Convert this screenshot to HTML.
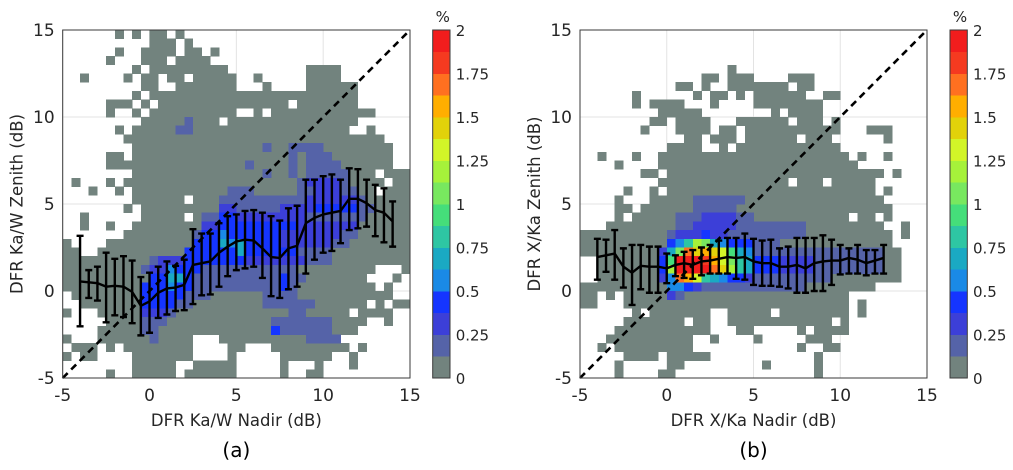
<!DOCTYPE html>
<html><head><meta charset="utf-8"><style>
html,body{margin:0;padding:0;background:#fff;}
svg{display:block;font-family:"DejaVu Sans","Liberation Sans",sans-serif;}
</style></head><body>
<svg id="fig" width="1013" height="470" viewBox="0 0 1013 470" xmlns="http://www.w3.org/2000/svg"></svg>
<script>
// ---------- data ----------
const ticks = [-5, 0, 5, 10, 15];
const cbTicks = [0, 0.25, 0.5, 0.75, 1, 1.25, 1.5, 1.75, 2];
const levelColors = ["#72837e","#5563a8","#3c3fd8","#1535ff","#1a8ae6","#1aa9c3","#2ec6a3","#45de7a","#78e85f","#a6f23a","#d2f528","#e2d20a","#ffae00","#ff7020","#f53a20","#f21d1d"];

// Panel a histogram (row 0 = top, 0.5 dB bins; gray cell runs)
const grayA = [
[[6],[8],[10,11],[13]],[[10,12],[14]],[[6],[9,12],[14,15],[17]],[[5],[9,11],[13,16]],
[[8],[10,18],[28,31]],[[2],[7],[9,10],[12,13],[15,19],[22],[28,31]],[[9,10],[13,19],[23],[28,33]],[[8],[10,33]],
[[5,7],[9],[11,25],[27,33]],[[5],[8],[10,19],[22],[24,35]],[[9,17],[19,33]],[[6],[8,32],[35]],
[[7,36]],[[8,37]],[[5,6],[8,37]],[[5,37]],[[8,35],[37,39]],[[1],[5],[7,36],[38,39]],
[[3],[6],[8,35],[37,39]],[[8,13],[15,39]],[[7],[9,39]],[[2],[9,13],[15,39]],[[2],[5],[8,39]],[[7,39]],
[[0],[5,39]],[[0,1],[4,39]],[[0,39]],[[0,35],[39]],[[0,34],[38]],[[0,35],[37]],[[1,37]],[[2,34],[36],[38,39]],
[[0],[4,32],[34,37]],[[5,34],[37]],[[4,33]],[[0],[4,14],[18,31]],[[1,3],[5],[7,14],[19,20],[24,32],[34]],
[[0],[2,3],[8,14],[19],[25,30],[33]],[[8,12],[15,19],[25],[29],[33]],[[5],[8,12],[14,19],[25],[28,29]]
];
// colored overlays: [row, colStart, colEnd, level]
const colorA = [
[10,14,14,1],[11,13,14,1],[13,23,23,1],[13,26,29,1],[14,26,26,1],[14,28,30,1],[15,21,21,1],[15,26,26,1],[15,28,31,1],
[16,23,23,1],[16,26,26,1],[16,28,32,1],[17,27,32,1],[17,28,31,2],[18,19,21,1],[18,27,33,1],[18,29,31,2],
[19,18,22,1],[19,23,26,1],[19,27,34,1],[19,28,33,2],
[20,18,19,2],[20,20,24,1],[20,25,28,2],[20,29,33,3],[20,34,35,1],
[21,16,17,1],[21,18,19,3],[21,20,27,2],[21,28,34,1],
[22,16,17,2],[22,18,19,3],[22,20,26,3],[22,27,33,2],
[23,15,15,1],[23,16,17,3],[23,18,18,4],[23,19,19,3],[23,20,24,3],[23,25,31,2],[23,32,33,1],
[24,15,17,3],[24,18,18,5],[24,19,19,4],[24,20,20,5],[24,21,24,3],[24,25,30,2],[24,31,32,1],
[25,14,19,3],[25,20,20,5],[25,21,26,3],[25,27,30,1],
[26,10,10,1],[26,11,13,2],[26,14,20,3],[26,21,27,2],[26,28,30,1],
[27,9,9,1],[27,10,11,2],[27,12,12,4],[27,13,15,3],[27,16,26,1],
[28,10,11,3],[28,12,13,5],[28,14,14,3],[28,15,27,1],[28,25,25,3],
[29,9,11,3],[29,12,12,4],[29,13,14,3],[29,15,26,1],[29,25,25,3],
[30,9,13,3],[30,14,16,1],[30,23,26,1],[31,9,12,3],[31,13,14,1],[31,23,28,1],
[32,9,11,2],[32,12,12,1],[32,26,27,1],[33,9,11,1],[33,24,30,1],[34,9,10,1],[34,24,24,3],[34,25,30,1],[35,10,10,1],[35,28,31,1]
];
const xsA = [-4,-3.5,-3,-2.5,-2,-1.5,-1,-0.5,0,0.5,1,1.5,2,2.5,3,3.5,4,4.5,5,5.5,6,6.5,7,7.5,8,8.5,9,9.5,10,10.5,11,11.5,12,12.5,13,13.5,14];
const meanA = [0.55,0.5,0.45,0.25,0.3,0.25,-0.05,-0.85,-0.6,-0.1,0.15,0.2,0.35,1.5,1.6,1.7,2.2,2.55,2.85,2.95,2.9,2.45,1.95,1.9,2.45,2.6,3.9,4.2,4.4,4.5,4.6,5.3,5.3,5.05,4.65,4.5,4.0];
const topA = [3.17,1.2,1.4,2.2,1.85,2.0,1.75,0.8,1.05,1.4,1.7,1.45,1.8,3.55,3.3,3.3,3.9,4.3,4.4,4.6,4.65,4.5,4.3,4.05,4.75,4.9,6.4,6.4,6.6,6.7,6.4,7.05,7.0,6.4,6.1,5.9,5.15];
const botA = [-2.03,-0.4,-0.55,-1.8,-1.4,-1.5,-1.85,-2.55,-2.4,-1.55,-1.35,-1.15,-1.1,-0.75,-0.25,-0.2,0.25,0.85,1.2,1.3,1.4,0.75,-0.3,-0.4,0.1,0.25,1.0,1.8,2.2,2.3,2.75,3.5,3.6,3.7,3.15,2.8,2.55];

// Panel b histogram
const grayB = [
[],[],[],[],[[17]],[[14,15],[17,19],[24,26]],[[11,12],[14],[17,23],[25,26]],[[6],[13],[15,16],[18],[20,25],[28,29]],
[[6],[8,11],[15],[20,27]],[[9,13],[22],[24,27]],[[8,9],[11,14],[18,23],[25,27],[29]],[[7],[11,14],[16,17],[19,29],[33,35]],
[[12,13],[15,17],[19,24],[26,28],[35]],[[10,13],[16],[18,29]],[[2],[6],[9,30],[32],[35]],[[4],[9,31]],
[[7,8],[10,34],[36]],[[9,23],[25,27],[29,33]],[[5],[8],[10,33],[35]],[[4],[8,34]],
[[4,5],[7,35]],[[4],[6,30],[32,33],[35]],[[3,34],[37]],[[0,35],[37]],[[0,35]],[[0,36]],[[2,36]],[[2,36]],[[2,36]],[[0,33]],
[[0,1],[3],[5,30]],[[0,1],[5,30],[32]],[[6],[8,14],[17,21],[23,30],[32]],[[5,11],[13,14],[17,28],[30]],
[[4,14],[18,19],[25],[27,30]],[[3,12],[15],[20],[26,28]],[[2],[4,12],[25],[28,29]],[[5,8],[10,14],[27]],[[4],[10,11],[21],[27]],[[4],[9,10],[27]]
];
const colorB = [
[19,13,18,1],[20,13,17,1],[21,11,13,1],[21,14,17,2],[21,18,19,1],
[22,11,12,1],[22,13,17,2],[22,18,25,1],
[23,10,10,1],[23,11,13,2],[23,14,14,3],[23,15,16,2],[23,17,25,1],
[24,10,10,3],[24,11,11,4],[24,12,12,6],[24,13,13,9],[24,14,14,8],[24,15,15,5],[24,16,16,4],[24,17,19,3],[24,20,22,1],
[25,9,9,2],[25,10,10,5],[25,11,11,8],[25,12,12,13],[25,13,13,11],[25,14,14,12],[25,15,15,11],[25,16,16,10],[25,17,17,7],[25,18,18,5],[25,19,19,4],[25,20,34,1],
[26,9,9,3],[26,10,10,7],[26,11,13,15],[26,14,14,14],[26,15,15,12],[26,16,16,10],[26,17,17,8],[26,18,18,6],[26,19,19,5],[26,20,22,3],[26,23,26,2],[26,27,34,1],
[27,9,9,3],[27,10,10,9],[27,11,14,15],[27,15,15,13],[27,16,16,11],[27,17,17,9],[27,18,18,6],[27,19,19,5],[27,20,22,3],[27,23,26,2],[27,27,34,1],
[28,9,9,2],[28,10,10,4],[28,11,11,13],[28,12,12,12],[28,13,13,10],[28,14,14,6],[28,15,15,5],[28,16,16,4],[28,17,18,3],[28,19,19,2],[28,20,28,1],
[29,10,11,4],[29,12,12,3],[29,13,13,2],[29,14,25,1],[30,10,10,2],[30,11,11,1]
];
const xsB = [-4,-3.5,-3,-2.5,-2,-1.5,-1,-0.5,0,0.5,1,1.5,2,2.5,3,3.5,4,4.5,5,5.5,6,6.5,7,7.5,8,8.5,9,9.5,10,10.5,11,11.5,12,12.5];
const meanB = [1.95,2.05,2.15,1.4,1.05,1.45,1.4,1.4,1.3,1.5,1.6,1.5,1.7,1.75,1.85,1.95,1.9,1.95,1.7,1.6,1.6,1.4,1.4,1.5,1.3,1.6,1.7,1.75,1.75,1.9,1.8,1.6,1.75,1.9];
const topB = [3.0,2.95,3.5,2.45,2.65,2.65,2.55,2.55,2.15,2.05,2.25,2.35,2.5,2.65,2.9,3.05,3.05,3.3,3.0,2.9,2.95,2.45,2.55,3.05,3.05,3.05,3.2,2.95,2.65,2.45,2.65,2.35,2.35,2.65];
const botB = [0.65,1.1,0.65,0.2,-0.8,0.1,-0.1,-0.1,0.45,0.85,0.75,0.7,0.9,1.0,1.0,1.0,0.7,0.65,0.35,0.3,0.3,0.25,0.15,-0.1,-0.1,0.0,0.0,0.35,0.95,1.0,1.0,0.9,1.0,1.0];

// ---------- drawing ----------
const NS = "http://www.w3.org/2000/svg";
const svg = document.getElementById('fig');
function mk(tag, attrs, parent) {
  const e = document.createElementNS(NS, tag);
  for (const k in attrs) e.setAttribute(k, attrs[k]);
  (parent || svg).appendChild(e);
  return e;
}
function txt(s, attrs, parent) { const t = mk('text', attrs, parent); t.textContent = s; return t; }

function panel(cfg) {
  const g = mk('g', {});
  
  
  const L = cfg.x0, R = cfg.x1, T = 30, B = 378;
  const sx = v => L + (v + 5) / 20 * (R - L);
  const sy = v => B - (v + 5) / 20 * (B - T);
  const cw = (R - L) / 40, ch = (B - T) / 40;
  const grid = mk('g', {stroke: '#e3e3e3', 'stroke-width': 1}, g);
  
  
  ticks.forEach(t => {
    mk('line', {x1: sx(t), x2: sx(t), y1: T, y2: B}, grid);
    mk('line', {x1: L, x2: R, y1: sy(t), y2: sy(t)}, grid);
  });
  const hg = mk('g', {'shape-rendering': 'crispEdges'}, g);
  
  
  const cell = (r, c0, c1, lvl) => {
    const rc = mk('rect', {x: L + c0 * cw, y: T + r * ch, width: (c1 - c0 + 1) * cw + 0.3, height: ch + 0.3, fill: levelColors[lvl]}, hg);
    
    
  };
  cfg.gray.forEach((runs, r) => runs.forEach(run => cell(r, run[0], run.length > 1 ? run[1] : run[0], 0)));
  cfg.color.forEach(c => cell(c[0], c[1], c[2], c[3]));
  const d = mk('line', {x1: sx(-5), y1: sy(-5), x2: sx(15), y2: sy(15), stroke: '#000', 'stroke-width': 2.6, 'stroke-dasharray': '7,5'}, g);
  
  
  const eg = mk('g', {stroke: '#000', 'stroke-width': 2.4, fill: 'none'}, g);
  
  
  cfg.xs.forEach((x, i) => {
    const X = sx(x);
    const p = mk('path', {d: `M${X},${sy(cfg.top[i])}V${sy(cfg.bot[i])}M${X-3.5},${sy(cfg.top[i])}H${X+3.5}M${X-3.5},${sy(cfg.bot[i])}H${X+3.5}`}, eg);
    
    
  });
  const ml = mk('polyline', {points: cfg.xs.map((x, i) => sx(x) + ',' + sy(cfg.mean[i])).join(' '), stroke: '#000', 'stroke-width': 2.4, fill: 'none', 'stroke-linejoin': 'round'}, g);
  
  
  const bx = mk('rect', {x: L, y: T, width: R - L, height: B - T, fill: 'none', stroke: '#3a3a3a', 'stroke-width': 1}, g);
  
  
  ticks.forEach(t => {
    const a = txt(String(t), {x: sx(t), y: B + 23, 'font-size': 17, fill: '#262626', 'text-anchor': 'middle'}, g);
    
    
    const b = txt(String(t), {x: L - 8, y: sy(t) + 6, 'font-size': 17, fill: '#262626', 'text-anchor': 'end'}, g);
    
    
  });
  const xt = txt(cfg.xtitle, {x: (L + R) / 2, y: 426, 'font-size': 16.5, fill: '#262626', 'text-anchor': 'middle'}, g);
  
  
  const yt = txt(cfg.ytitle, {x: 0, y: 0, 'font-size': 16.5, fill: '#262626', 'text-anchor': 'middle', transform: `translate(${L - 40},${(T + B) / 2}) rotate(-90)`}, g);
  
  
  const pl = txt(cfg.label, {x: (L + R) / 2, y: 457, 'font-size': 20, fill: '#000', 'text-anchor': 'middle'}, g);
  
  
  const cb = mk('g', {}, g);
  
  
  const bh = (B - T) / 16;
  levelColors.forEach((c, i) => {
    const r = mk('rect', {x: cfg.cbx, y: B - (i + 1) * bh, width: 17.3, height: bh + 0.4, fill: c, 'shape-rendering': 'crispEdges'}, cb);
    
    
  });
  mk('rect', {x: cfg.cbx, y: T, width: 17.3, height: B - T, fill: 'none', stroke: '#3a3a3a', 'stroke-width': 1}, cb);
  cbTicks.forEach(t => {
    const y = B - t / 2 * (B - T);
    const l = txt(String(t), {x: cfg.cbx + 23, y: y + 6, 'font-size': 15, fill: '#262626'}, cb);
    
    
  });
  const pc = txt('%', {x: cfg.cbx + 10, y: 22, 'font-size': 15, fill: '#262626', 'text-anchor': 'middle'}, cb);
  
  
}

panel({name: 'panel-a', x0: 62.7, x1: 410, gray: grayA, color: colorA, xs: xsA, mean: meanA, top: topA, bot: botA,
  xtitle: 'DFR Ka/W Nadir (dB)', ytitle: 'DFR Ka/W Zenith (dB)', label: '(a)', cbx: 432.7});
panel({name: 'panel-b', x0: 580, x1: 927, gray: grayB, color: colorB, xs: xsB, mean: meanB, top: topB, bot: botB,
  xtitle: 'DFR X/Ka Nadir (dB)', ytitle: 'DFR X/Ka Zenith (dB)', label: '(b)', cbx: 950});
</script>
</body></html>
